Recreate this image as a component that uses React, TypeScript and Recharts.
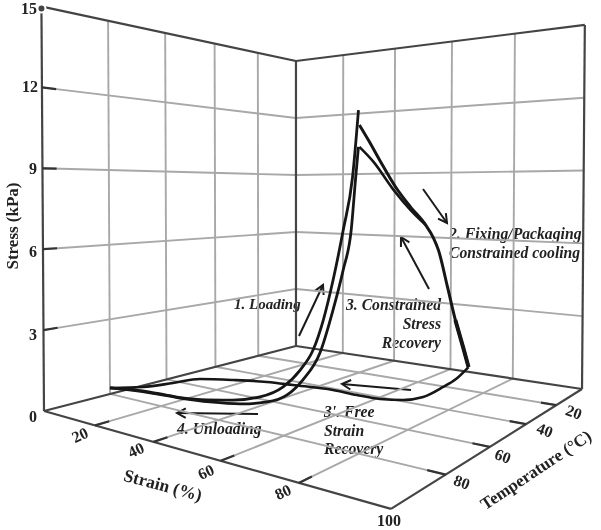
import { LineChart, Line, XAxis, YAxis } from 'recharts'

const STRAIN_TICKS = [20, 40, 60, 80]
const TEMP_TICKS = [20, 40, 60, 80]
const STRESS_TICKS = [3, 6, 9, 12]
const STRAIN_MAX = 100
const TEMP_MAX = 100
const STRESS_MAX = 15

// 1. Loading, the strand that peaks near 11 kPa
const loadHighStrain = [0, 11.7, 19.4, 27.6, 34.6, 41.7, 47.6, 51.9, 55.1, 57.6, 60, 62.4, 64.6, 66]
const loadHighTemp = [80, 76.3, 74, 71.4, 69.2, 67, 65.1, 63.8, 62.8, 62, 61.3, 60.5, 59.8, 59.4]
const loadHighStress = [0.24, 0.23, 0.14, 0.14, 0.23, 0.45, 0.9, 1.57, 2.34, 3.46, 4.93, 6.75, 8.66, 11.06]

// the strand that peaks near 9.7 kPa
const loadLowStrain = [0, 11.7, 20.2, 28.4, 36.5, 43.5, 48.6, 52.6, 56.8, 60, 62.4, 64.3, 65.3, 66]
const loadLowTemp = [80, 76.3, 73.7, 71.1, 68.6, 66.4, 64.8, 63.6, 62.3, 61.3, 60.5, 59.9, 59.6, 59.4]
const loadLowStress = [0.24, 0.2, 0.11, 0.07, 0.11, 0.28, 0.61, 1.22, 2.25, 3.85, 5.31, 6.76, 8.56, 9.74]

// 2. Fixing / constrained cooling
const coolTemp = [59, 55.1, 48.7, 42.4, 34.8, 26.7, 22.2, 19.3, 13.8, 8.8, 3.7, 0]
const coolStress = [10.53, 10.02, 9.13, 8.31, 7.52, 6.77, 6.2, 5.67, 4.04, 2.52, 1.21, 0.22]
const coolStrain = coolTemp.map(() => 66)

// 3. Constrained stress recovery
const recoverTemp = [59, 52.8, 43.4, 34.8, 26.7]
const recoverStress = [9.74, 9.23, 8.2, 7.4, 6.77]
const recoverStrain = recoverTemp.map(() => 66)

// the part of both branches that is drawn heavier at the bottom
const tailTemp = [8.8, 3.7, 0]
const tailStress = [2.52, 1.21, 0.22]
const tailStrain = tailTemp.map(() => 66)

// 3'. Free strain recovery
const freeStrain = [66, 67, 68.3, 69, 66.2, 60.9, 53.8, 45.6, 33.4, 25.3, 16, 7.5, 4.7, 1.4, 0]
const freeTemp = [0, 10.2, 20.6, 33.1, 38.8, 41.5, 41.8, 41.3, 43.5, 45.2, 49.2, 54, 61.8, 69.8, 80]
const freeStress = [0.22, 0, 0, 0, 0, 0, 0, 0, 0, 0, 0, 0, 0, 0, 0.24]

type Row = { px: number; py: number }

// perspective of the box: floor homography plus a lift that grows towards the viewer
function project(strain: number, temp: number, stress: number): Row {
  const u = strain / STRAIN_MAX
  const v = temp / TEMP_MAX
  const w = 1 - 0.2172 * u - 0.2953 * v
  const x = (159.6 * u - 265 * v + 296) / w
  const y = (-41.5 * u - 56.4 * v + 346) / w
  return {
    px: x + ((x - 300) * 0.01 * stress) / STRESS_MAX,
    py: y - (19 * stress) / w,
  }
}

const rows = (strain: number[], temp: number[], stress: number[]) =>
  strain.map((s, i) => project(s, temp[i], stress[i]))

const seg = (a: [number, number, number], b: [number, number, number]) => [
  project(...a),
  project(...b),
]

const gridLines = [
  ...STRESS_TICKS.flatMap((z) => [
    seg([0, TEMP_MAX, z], [0, 0, z]),
    seg([0, 0, z], [STRAIN_MAX, 0, z]),
  ]),
  ...TEMP_TICKS.flatMap((t) => [
    seg([0, t, 0], [0, t, STRESS_MAX]),
    seg([0, t, 0], [STRAIN_MAX, t, 0]),
  ]),
  ...STRAIN_TICKS.flatMap((s) => [
    seg([s, 0, 0], [s, 0, STRESS_MAX]),
    seg([s, 0, 0], [s, TEMP_MAX, 0]),
  ]),
]

const frameLines = [
  seg([0, TEMP_MAX, 0], [0, TEMP_MAX, STRESS_MAX * 0.995]),
  seg([0, TEMP_MAX * 0.995, STRESS_MAX], [0, 0, STRESS_MAX]),
  seg([0, 0, STRESS_MAX], [STRAIN_MAX, 0, STRESS_MAX]),
  seg([0, 0, 0], [0, 0, STRESS_MAX]),
  seg([STRAIN_MAX, 0, 0], [STRAIN_MAX, 0, STRESS_MAX]),
  seg([0, TEMP_MAX, 0], [0, 0, 0]),
  seg([0, 0, 0], [STRAIN_MAX, 0, 0]),
  seg([0, TEMP_MAX, 0], [STRAIN_MAX, TEMP_MAX, 0]),
  seg([STRAIN_MAX, TEMP_MAX, 0], [STRAIN_MAX, 0, 0]),
]

const tickLines = [
  ...STRESS_TICKS.map((z) => seg([0, TEMP_MAX, z], [0, 96, z])),
  ...STRAIN_TICKS.map((s) => seg([s, TEMP_MAX, 0], [s, 96, 0])),
  ...TEMP_TICKS.map((t) => seg([STRAIN_MAX, t, 0], [96, t, 0])),
]

const curves = [
  { id: 'load-high', data: rows(loadHighStrain, loadHighTemp, loadHighStress), width: 2.8 },
  { id: 'load-low', data: rows(loadLowStrain, loadLowTemp, loadLowStress), width: 2.8 },
  { id: 'cool', data: rows(coolStrain, coolTemp, coolStress), width: 3 },
  { id: 'recover', data: rows(recoverStrain, recoverTemp, recoverStress), width: 2.6 },
  { id: 'tail', data: rows(tailStrain, tailTemp, tailStress), width: 4 },
  { id: 'free', data: rows(freeStrain, freeTemp, freeStress), width: 2.6 },
]

const SERIF = '"Liberation Serif", serif'

function Arrow({ x1, y1, x2, y2 }: { x1: number; y1: number; x2: number; y2: number }) {
  const angle = Math.atan2(y2 - y1, x2 - x1)
  const barb = (d: number) => ({
    x: x2 - 10 * Math.cos(angle + d),
    y: y2 - 10 * Math.sin(angle + d),
  })
  const a = barb(0.5)
  const b = barb(-0.5)
  return (
    <g stroke="#1a1a1a" strokeWidth={2} fill="none">
      <line x1={x1} y1={y1} x2={x2} y2={y2} />
      <polyline points={`${a.x},${a.y} ${x2},${y2} ${b.x},${b.y}`} />
    </g>
  )
}

function Tick({ x, y, rotate = 0, children }: any) {
  return (
    <text
      x={x}
      y={y}
      textAnchor="middle"
      dominantBaseline="central"
      transform={`rotate(${rotate} ${x} ${y})`}
      fontFamily={SERIF}
      fontWeight={700}
      fontSize={16}
      fill="#222"
    >
      {children}
    </text>
  )
}

function Note({ x, y, anchor = 'start', size = 15.7, children }: any) {
  return (
    <text
      x={x}
      y={y}
      textAnchor={anchor}
      dominantBaseline="central"
      fontFamily={SERIF}
      fontWeight={700}
      fontStyle="italic"
      fontSize={size}
      fill="#222"
    >
      {children}
    </text>
  )
}

export default function App() {
  return (
    <div style={{ position: 'absolute', left: 0, top: 0, filter: 'blur(0.5px)' }}>
      <LineChart width={601} height={530} margin={{ top: 0, right: 0, bottom: 0, left: 0 }}>
        <XAxis dataKey="px" type="number" domain={[0, 601]} hide />
        <YAxis dataKey="py" type="number" domain={[0, 530]} reversed hide />
        {gridLines.map((d, i) => (
          <Line key={`grid-${i}`} data={d} dataKey="py" stroke="#a8a8a8" strokeWidth={1.9} dot={false} isAnimationActive={false} />
        ))}
        {frameLines.map((d, i) => (
          <Line key={`frame-${i}`} data={d} dataKey="py" stroke="#444" strokeWidth={2.2} dot={false} isAnimationActive={false} />
        ))}
        {tickLines.map((d, i) => (
          <Line key={`tick-${i}`} data={d} dataKey="py" stroke="#333" strokeWidth={2.2} dot={false} isAnimationActive={false} />
        ))}
        {curves.map((c) => (
          <Line key={c.id} data={c.data} dataKey="py" type="monotoneX" stroke="#161616" strokeWidth={c.width} dot={false} isAnimationActive={false} />
        ))}

        <Tick x={29} y={8}>15</Tick>
        <Tick x={30} y={86}>12</Tick>
        <Tick x={33} y={168}>9</Tick>
        <Tick x={33} y={251}>6</Tick>
        <Tick x={33} y={334}>3</Tick>
        <Tick x={33} y={416}>0</Tick>

        <Tick x={80} y={435} rotate={-25}>20</Tick>
        <Tick x={136} y={450} rotate={-25}>40</Tick>
        <Tick x={206} y={472} rotate={-25}>60</Tick>
        <Tick x={283} y={492} rotate={-25}>80</Tick>
        <Tick x={389} y={520}>100</Tick>

        <Tick x={574} y={412} rotate={20}>20</Tick>
        <Tick x={545} y={430} rotate={20}>40</Tick>
        <Tick x={503} y={456} rotate={20}>60</Tick>
        <Tick x={462} y={482} rotate={20}>80</Tick>

        <text x={12} y={226} textAnchor="middle" dominantBaseline="central" transform="rotate(-90 12 226)" fontFamily={SERIF} fontWeight={700} fontSize={17} fill="#222">Stress (kPa)</text>
        <text x={163} y={485} textAnchor="middle" dominantBaseline="central" transform="rotate(15 163 485)" fontFamily={SERIF} fontWeight={700} fontSize={17.5} fill="#222">Strain (%)</text>
        <text x={536} y={470} textAnchor="middle" dominantBaseline="central" transform="rotate(-33.7 536 470)" fontFamily={SERIF} fontWeight={700} fontSize={17} fill="#222">Temperature (°C)</text>

        <Note x={234} y={304} size={15}>1. Loading</Note>
        <Note x={449} y={233}>2. Fixing/Packaging</Note>
        <Note x={449} y={252}>Constrained cooling</Note>
        <Note x={441} y={304} anchor="end">3. Constrained</Note>
        <Note x={441} y={323} anchor="end">Stress</Note>
        <Note x={441} y={342} anchor="end">Recovery</Note>
        <Note x={324} y={411}>3'. Free</Note>
        <Note x={324} y={430}>Strain</Note>
        <Note x={324} y={448}>Recovery</Note>
        <Note x={177} y={428}>4. Unloading</Note>

        <Arrow x1={423} y1={189} x2={447} y2={223} />
        <Arrow x1={429} y1={289} x2={401} y2={237} />
        <Arrow x1={299} y1={336} x2={323} y2={285} />
        <Arrow x1={411} y1={390} x2={342} y2={384} />
        <Arrow x1={258} y1={414} x2={177} y2={413} />
      </LineChart>
    </div>
  )
}
